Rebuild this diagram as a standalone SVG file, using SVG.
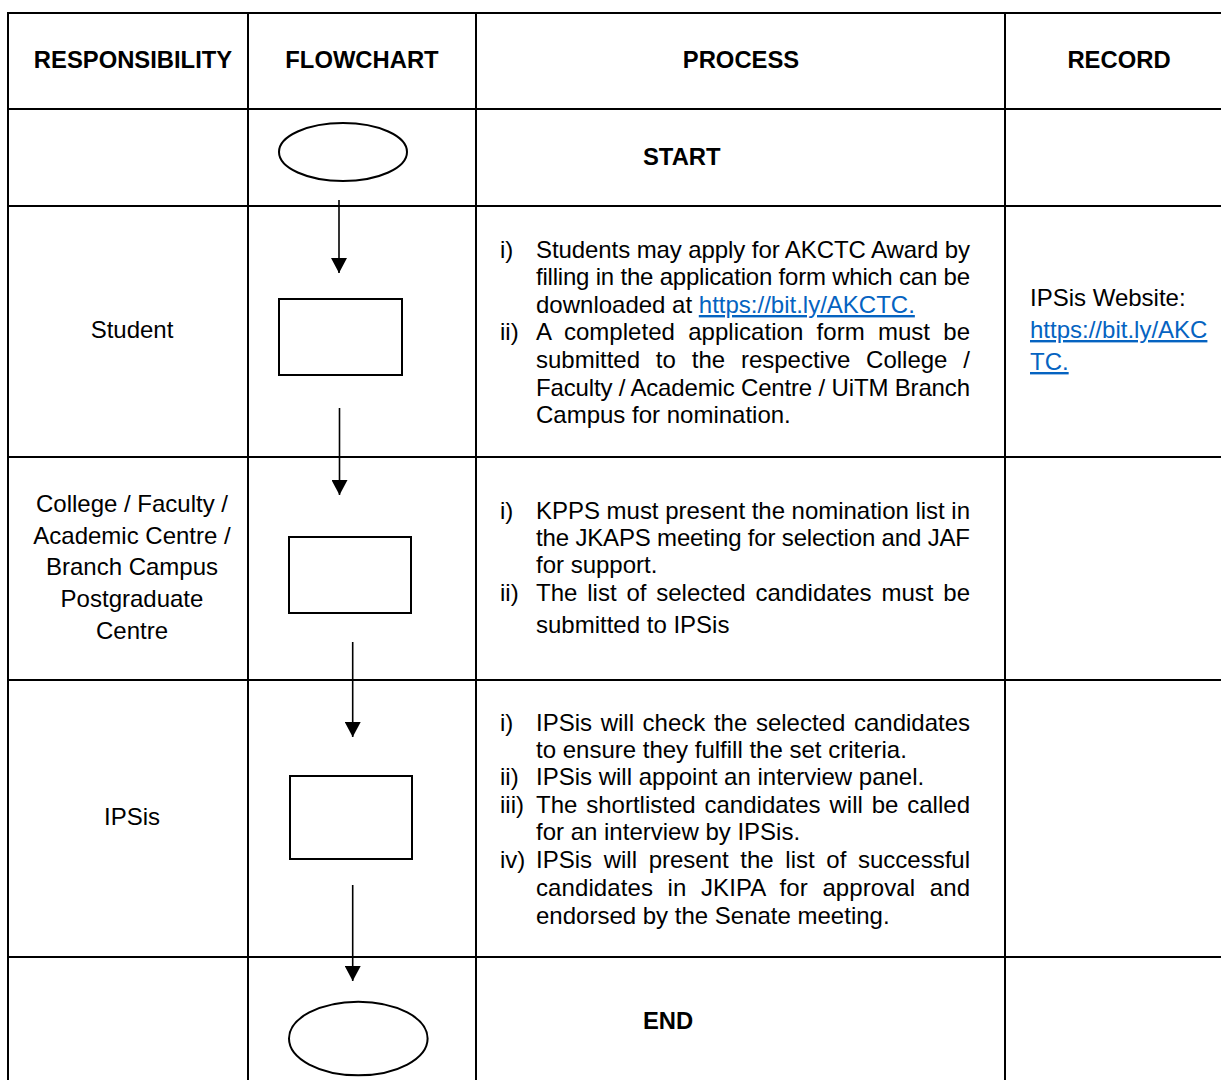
<svg xmlns="http://www.w3.org/2000/svg" width="1221" height="1080" viewBox="0 0 1221 1080">
<style>
text{font-family:"Liberation Sans",Arial,sans-serif;font-size:24px;fill:#000}
.h{font-weight:bold;font-size:23.8px}
.c{text-anchor:middle}
.lnk{fill:#0563C1;text-decoration:underline}
.grid{stroke:#000;stroke-width:2;fill:none}
.shape{stroke:#000;stroke-width:2;fill:#fff}
.conn{stroke:#000;stroke-width:1.6}
</style>
<defs>
<marker id="arr" markerWidth="16" markerHeight="16" refX="15" refY="8" orient="auto" markerUnits="userSpaceOnUse" viewBox="0 0 16 16">
<path d="M0,0 L15,8 L0,16 Z" fill="#000"/>
</marker>
</defs>
<rect width="1221" height="1080" fill="#fff"/>
<g id="table" class="grid">
<line x1="8" y1="13" x2="1221" y2="13"/>
<line x1="8" y1="109" x2="1221" y2="109"/>
<line x1="8" y1="206" x2="1221" y2="206"/>
<line x1="8" y1="457" x2="1221" y2="457"/>
<line x1="8" y1="680" x2="1221" y2="680"/>
<line x1="8" y1="957" x2="1221" y2="957"/>
<line x1="8" y1="12" x2="8" y2="1080"/>
<line x1="248" y1="12" x2="248" y2="1080"/>
<line x1="476" y1="12" x2="476" y2="1080"/>
<line x1="1005" y1="12" x2="1005" y2="1080"/>
</g>
<g id="headers">
<text class="h c" x="133" y="68">RESPONSIBILITY</text>
<text class="h c" x="362" y="68">FLOWCHART</text>
<text class="h c" x="741" y="68">PROCESS</text>
<text class="h c" x="1119" y="68">RECORD</text>
</g>
<g id="connectors">
<line class="conn" x1="339" y1="200" x2="339" y2="273" marker-end="url(#arr)"/>
<line class="conn" x1="339.5" y1="408" x2="339.5" y2="495" marker-end="url(#arr)"/>
<line class="conn" x1="352.7" y1="642" x2="352.7" y2="737" marker-end="url(#arr)"/>
<line class="conn" x1="352.7" y1="885" x2="352.7" y2="981" marker-end="url(#arr)"/>
</g>
<g id="start">
<ellipse class="shape" cx="343" cy="152" rx="64" ry="29"/>
<text class="h" x="643" y="165">START</text>
</g>
<g id="step-student">
<rect class="shape" x="279" y="299" width="123" height="76"/>
<text class="c" x="132" y="338">Student</text>
<text x="500" y="258">i)</text>
<text x="536" y="258" textLength="434" lengthAdjust="spacing">Students may apply for AKCTC Award by</text>
<text x="536" y="285" textLength="434" lengthAdjust="spacing">filling in the application form which can be</text>
<text x="536" y="313">downloaded at <tspan class="lnk">https://bit.ly/AKCTC.</tspan></text>
<text x="500" y="340">ii)</text>
<text x="536" y="340" word-spacing="6.5" textLength="434" lengthAdjust="spacing">A completed application form must be</text>
<text x="536" y="368" word-spacing="9.2" textLength="434" lengthAdjust="spacing">submitted to the respective College /</text>
<text x="536" y="396" textLength="434" lengthAdjust="spacing">Faculty / Academic Centre / UiTM Branch</text>
<text x="536" y="423">Campus for nomination.</text>
<text x="1030" y="306">IPSis Website:</text>
<text class="lnk" x="1030" y="338">https://bit.ly/AKC</text>
<text class="lnk" x="1030" y="370">TC.</text>
</g>
<g id="step-college">
<rect class="shape" x="289" y="537" width="122" height="76"/>
<text class="c" x="132" y="512">College / Faculty /</text>
<text class="c" x="132" y="544">Academic Centre /</text>
<text class="c" x="132" y="575">Branch Campus</text>
<text class="c" x="132" y="607">Postgraduate</text>
<text class="c" x="132" y="639">Centre</text>
<text x="500" y="519">i)</text>
<text x="536" y="519" textLength="434" lengthAdjust="spacing">KPPS must present the nomination list in</text>
<text x="536" y="546" textLength="434" lengthAdjust="spacing">the JKAPS meeting for selection and JAF</text>
<text x="536" y="573">for support.</text>
<text x="500" y="601">ii)</text>
<text x="536" y="601" word-spacing="3.2" textLength="434" lengthAdjust="spacing">The list of selected candidates must be</text>
<text x="536" y="633">submitted to IPSis</text>
</g>
<g id="step-ipsis">
<rect class="shape" x="290" y="776" width="122" height="83"/>
<text class="c" x="132" y="825">IPSis</text>
<text x="500" y="731">i)</text>
<text x="536" y="731" word-spacing="2" textLength="434" lengthAdjust="spacing">IPSis will check the selected candidates</text>
<text x="536" y="758">to ensure they fulfill the set criteria.</text>
<text x="500" y="785">ii)</text>
<text x="536" y="785">IPSis will appoint an interview panel.</text>
<text x="500" y="813">iii)</text>
<text x="536" y="813" word-spacing="2.2" textLength="434" lengthAdjust="spacing">The shortlisted candidates will be called</text>
<text x="536" y="840">for an interview by IPSis.</text>
<text x="500" y="868">iv)</text>
<text x="536" y="868" word-spacing="5" textLength="434" lengthAdjust="spacing">IPSis will present the list of successful</text>
<text x="536" y="896" word-spacing="7.8" textLength="434" lengthAdjust="spacing">candidates in JKIPA for approval and</text>
<text x="536" y="924">endorsed by the Senate meeting.</text>
</g>
<g id="end">
<ellipse class="shape" cx="358.3" cy="1038.5" rx="69.3" ry="36.8"/>
<text class="h" x="643" y="1029">END</text>
</g>
</svg>
